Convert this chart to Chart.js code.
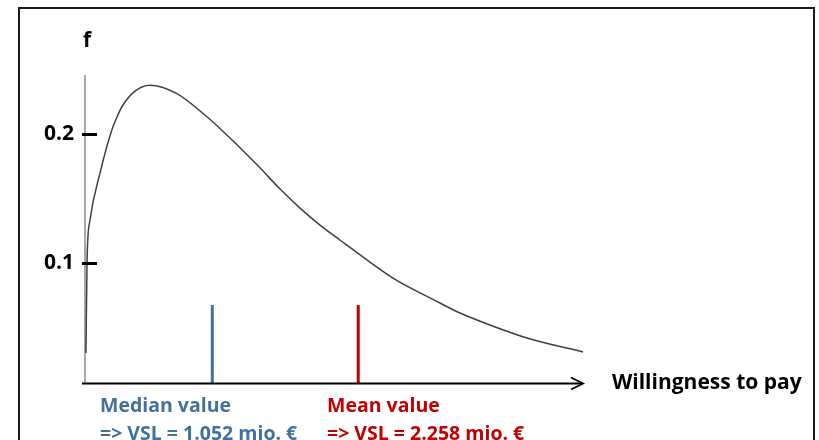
<!DOCTYPE html>
<html>
<head>
<meta charset="utf-8">
<script src="https://cdn.jsdelivr.net/npm/chart.js@4"></script>
<style>
  html, body { margin: 0; padding: 0; background: #fff; overflow: hidden; }
  #wrap { position: relative; width: 819px; height: 440px; }
  #frame { position: absolute; left: 18px; top: 7px; width: 797px; height: 460px; border: 2px solid #1a1a1a; box-sizing: border-box; pointer-events: none; }
  canvas { position: absolute; left: 0; top: 0; }
</style>
</head>
<body>
<div id="wrap">
  <canvas id="c" width="819" height="440"></canvas>
  <div id="frame"></div>
</div>
<script>
// Density curve (willingness to pay in mio. €, density f)
const wtpX = [0.008, 0.017, 0.041, 0.124, 0.221, 0.264, 0.306, 0.413, 0.537, 0.752, 1.008, 1.198, 1.281, 1.446, 1.612, 1.777, 1.942, 2.107, 2.355, 2.545, 2.934, 3.099, 3.347, 3.653, 4.116];
const densityY = [0.0298, 0.102, 0.133, 0.1697, 0.203, 0.2132, 0.2215, 0.2335, 0.2381, 0.2319, 0.2135, 0.1970, 0.1895, 0.1738, 0.1573, 0.1425, 0.1293, 0.1177, 0.1005, 0.0881, 0.0687, 0.0609, 0.0516, 0.0415, 0.0306];
const medianVSL = 1.052;
const meanVSL = 2.258;
const markerHeight = 0.0671;
const yTicks = [0.1, 0.2];
const yTickLabels = ['0.1', '0.2'];
const xAxisLabel = 'Willingness to pay';
const yAxisLabel = 'f';
const medianLines = ['Median value', '=> VSL = 1.052 mio. €'];
const meanLines = ['Mean value', '=> VSL = 2.258 mio. €'];

const X_MIN = 0, X_MAX = 4.132, Y_MIN = 0.0065, Y_MAX = 0.246;
const BLUE = '#41719C', RED = '#C00000';
const FONT = '"Open Sans", "Liberation Sans", sans-serif';

const curve = wtpX.map((x, i) => ({ x: x, y: densityY[i] }));

const decor = {
  id: 'decor',
  beforeDatasetsDraw(chart) {
    const ctx = chart.ctx, a = chart.chartArea;
    ctx.save();
    ctx.strokeStyle = '#8a8a8a';
    ctx.lineWidth = 1.5;
    ctx.beginPath();
    ctx.moveTo(a.left, a.top);
    ctx.lineTo(a.left, a.bottom);
    ctx.stroke();
    ctx.restore();
  },
  afterDatasetsDraw(chart) {
    const ctx = chart.ctx, a = chart.chartArea;
    const ys = chart.scales.y;
    ctx.save();
    ctx.strokeStyle = '#000';
    ctx.lineWidth = 3;
    yTicks.forEach(v => {
      const py = Math.round(ys.getPixelForValue(v)) + 0.5;
      ctx.beginPath();
      ctx.moveTo(a.left - 3, py);
      ctx.lineTo(a.left + 12, py);
      ctx.stroke();
    });
    const yb = a.bottom + 0.5;
    ctx.lineWidth = 2;
    ctx.beginPath();
    ctx.moveTo(a.left - 3, yb);
    ctx.lineTo(a.right - 2, yb);
    ctx.stroke();
    ctx.lineWidth = 1.8;
    ctx.beginPath();
    ctx.moveTo(a.right - 14, yb - 6);
    ctx.lineTo(a.right - 2, yb);
    ctx.lineTo(a.right - 14, yb + 6);
    ctx.stroke();
    ctx.fillStyle = '#000';
    ctx.textBaseline = 'middle';
    ctx.textAlign = 'left';
    ctx.font = 'bold 21px ' + FONT;
    ctx.fillText(xAxisLabel, 612, yb);
    ctx.textAlign = 'center';
    ctx.font = 'bold 21px ' + FONT;
    ctx.fillText(yAxisLabel, a.left + 2, 41);
    ctx.textAlign = 'left';
    ctx.font = 'bold 19.5px ' + FONT;
    ctx.fillStyle = BLUE;
    ctx.fillText(medianLines[0], 100, 406);
    ctx.fillText(medianLines[1], 100, 434);
    ctx.fillStyle = RED;
    ctx.fillText(meanLines[0], 327, 406);
    ctx.fillText(meanLines[1], 327, 434);
    ctx.restore();
  }
};

new Chart(document.getElementById('c'), {
  type: 'scatter',
  data: {
    datasets: [
      {
        data: curve,
        showLine: true,
        borderColor: '#404040',
        borderWidth: 1.5,
        pointRadius: 0,
        cubicInterpolationMode: 'monotone',
        fill: false
      },
      {
        data: [{ x: medianVSL, y: Y_MIN }, { x: medianVSL, y: markerHeight }],
        showLine: true,
        borderColor: BLUE,
        borderWidth: 3,
        pointRadius: 0
      },
      {
        data: [{ x: meanVSL, y: Y_MIN }, { x: meanVSL, y: markerHeight }],
        showLine: true,
        borderColor: RED,
        borderWidth: 3,
        pointRadius: 0
      }
    ]
  },
  options: {
    responsive: false,
    animation: false,
    devicePixelRatio: 1,
    layout: { padding: { left: 0, top: 75, right: 234, bottom: 57 } },
    plugins: { legend: { display: false }, tooltip: { enabled: false } },
    scales: {
      x: { type: 'linear', min: X_MIN, max: X_MAX, display: false },
      y: {
        type: 'linear', min: Y_MIN, max: Y_MAX,
        afterFit(s) { s.width = 85; },
        afterBuildTicks(s) { s.ticks = yTicks.map(v => ({ value: v })); },
        grid: { display: false },
        border: { display: false },
        ticks: {
          padding: 3,
          color: '#000',
          font: { family: FONT, size: 21, weight: 'bold' },
          callback(v) { const i = yTicks.indexOf(v); return i >= 0 ? yTickLabels[i] : ''; }
        }
      }
    }
  },
  plugins: [decor]
});
</script>
</body>
</html>
